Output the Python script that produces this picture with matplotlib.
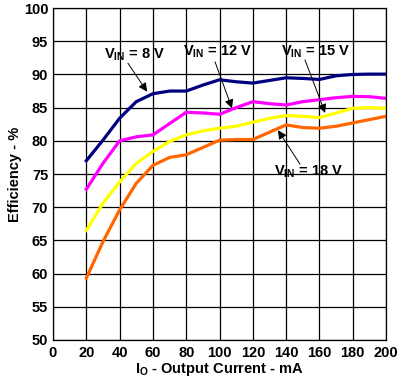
import numpy as np
import matplotlib
matplotlib.use("Agg")
import matplotlib.pyplot as plt

plt.rcParams['font.family'] = ['Liberation Sans', 'DejaVu Sans']
plt.rcParams['font.weight'] = 'bold'
plt.rcParams['mathtext.fontset'] = 'custom'
plt.rcParams['mathtext.rm'] = 'Liberation Sans:bold'
plt.rcParams['mathtext.bf'] = 'Liberation Sans:bold'
plt.rcParams['mathtext.it'] = 'Liberation Sans:bold'

# output current, mA
io = [20, 30, 40, 50, 60, 70, 80, 90, 100, 110, 120, 130, 140, 150, 160, 170, 180, 190, 200]

# efficiency, %
eff_8v = [77.0, 80.1, 83.4, 85.9, 87.1, 87.5, 87.5, 88.4, 89.2, 88.9, 88.7, 89.1, 89.5, 89.4, 89.25, 89.8, 90.0, 90.05, 90.05]
eff_12v = [72.7, 76.6, 80.0, 80.6, 80.9, 82.6, 84.3, 84.2, 84.0, 85.0, 85.9, 85.6, 85.4, 85.9, 86.2, 86.5, 86.7, 86.65, 86.4]
eff_15v = [66.5, 70.6, 73.8, 76.6, 78.4, 79.9, 80.9, 81.5, 81.9, 82.2, 82.8, 83.4, 83.8, 83.7, 83.5, 84.2, 84.9, 85.0, 84.9]
eff_18v = [59.3, 64.8, 69.6, 73.6, 76.3, 77.5, 77.9, 79.0, 80.1, 80.2, 80.2, 81.3, 82.4, 82.0, 81.9, 82.2, 82.7, 83.2, 83.7]

fig = plt.figure(figsize=(4.03, 3.85), dpi=100)
ax = fig.add_axes([0.1315, 0.117, 0.8265, 0.862])

ax.plot(io, eff_8v, color='#000080', lw=2.3)
ax.plot(io, eff_12v, color='#FF00FF', lw=2.3)
ax.plot(io, eff_15v, color='#FFFF00', lw=2.3)
ax.plot(io, eff_18v, color='#FF6600', lw=2.3)

ax.set_xlim(0, 200)
ax.set_ylim(50, 100)
ax.set_xticks(np.arange(0, 201, 20))
ax.set_yticks(np.arange(50, 101, 5))
ax.grid(True, color='black', lw=0.9)
ax.set_axisbelow(True)
ax.tick_params(length=0, labelsize=10.5)
ax.tick_params(axis='y', pad=3.5)
ax.tick_params(axis='x', pad=4)
for s in ax.spines.values():
    s.set_color('black')
    s.set_linewidth(0.9)

ax.set_xlabel(r'I$_\mathrm{O}$ - Output Current - mA', fontsize=10.5, fontweight='bold', labelpad=1)
ax.set_ylabel('Efficiency - %', fontsize=10.5, fontweight='bold', labelpad=1)

arrow = dict(arrowstyle='-|>', color='black', lw=0.7, mutation_scale=13, shrinkA=0, shrinkB=0)
labels = [
    (r'V$_\mathrm{IN}$ = 8 V', (56.5, 87.4), (49.2, 93.0), (45.0, 91.7)),
    (r'V$_\mathrm{IN}$ = 12 V', (107.5, 84.9), (99.1, 93.4), (97.3, 91.9)),
    (r'V$_\mathrm{IN}$ = 15 V', (163.4, 84.2), (157.4, 93.4), (151.3, 92.2)),
    (r'V$_\mathrm{IN}$ = 18 V', (135.1, 81.6), (153.2, 75.3), (148.3, 76.5)),
]
for txt, tip, pos, start in labels:
    ax.text(pos[0], pos[1], txt, ha='center', va='center', fontsize=10.5, fontweight='bold')
    ax.annotate('', xy=tip, xytext=start, arrowprops=arrow)

fig.savefig('out.png', dpi=100)
